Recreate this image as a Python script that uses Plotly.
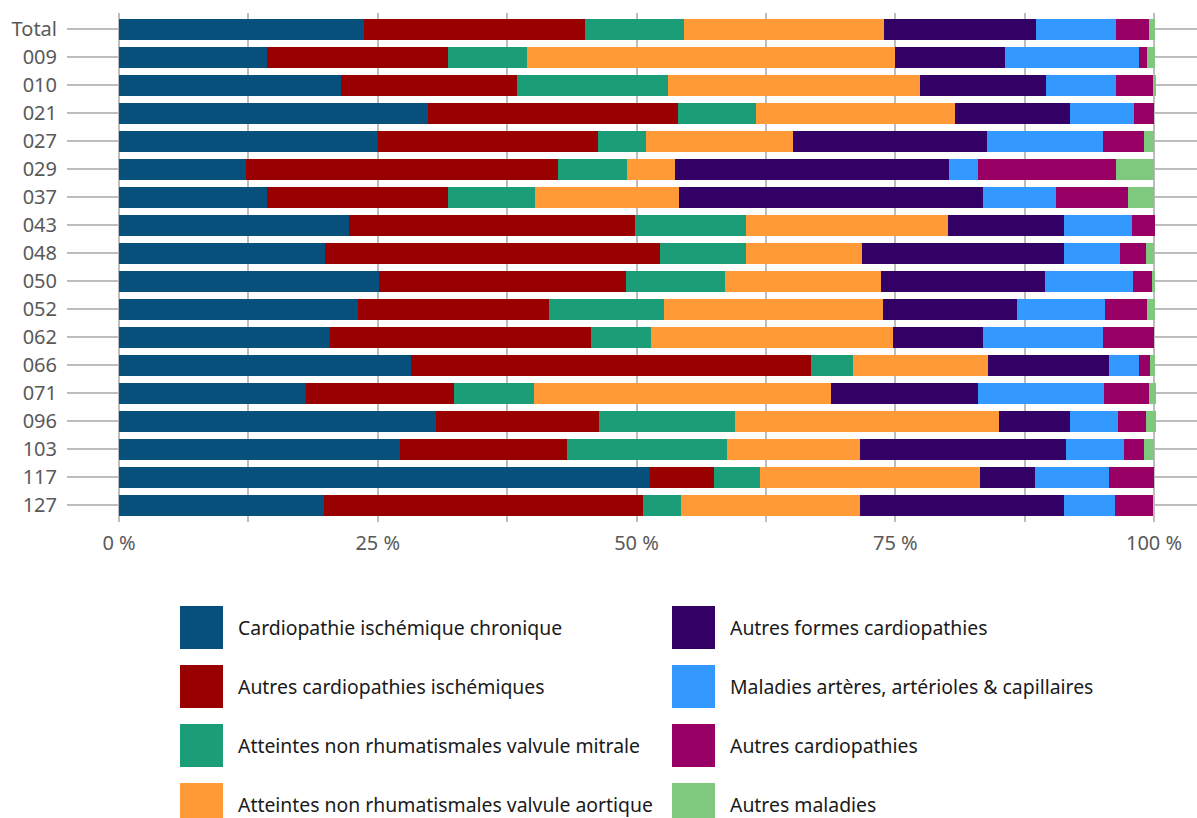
import plotly.graph_objects as go

# Regions (rows of the chart, top to bottom)
categories = ["Total", "009", "010", "021", "027", "029", "037", "043", "048",
              "050", "052", "062", "066", "071", "096", "103", "117", "127"]

# Share of deaths (%) by cause, one list per cause, in category order
cardio_isch_chronique = [23.7, 14.3, 21.4, 29.9, 25.0, 12.3, 14.3, 22.2, 19.9,
                         25.1, 23.1, 20.4, 28.2, 18.1, 30.6, 27.1, 51.3, 19.8]
autres_cardio_isch = [21.3, 17.5, 17.1, 24.1, 21.3, 30.1, 17.5, 27.7, 32.4,
                      23.9, 18.4, 25.2, 38.7, 14.3, 15.8, 16.2, 6.2, 30.8]
valvule_mitrale = [9.6, 7.6, 14.5, 7.5, 4.6, 6.7, 8.4, 10.7, 8.3,
                   9.5, 11.2, 5.8, 4.0, 7.7, 13.1, 15.4, 4.4, 3.7]
valvule_aortique = [19.3, 35.6, 24.4, 19.3, 14.2, 4.6, 13.9, 19.5, 11.2,
                    15.1, 21.1, 23.4, 13.1, 28.7, 25.5, 12.9, 21.3, 17.3]
autres_formes = [14.7, 10.6, 12.2, 11.1, 18.8, 26.5, 29.4, 11.2, 19.5,
                 15.9, 13.0, 8.7, 11.6, 14.2, 6.9, 19.9, 5.3, 19.7]
arteres = [7.7, 12.9, 6.7, 6.2, 11.2, 2.8, 7.0, 6.6, 5.4,
           8.5, 8.5, 11.6, 2.9, 12.2, 4.6, 5.6, 7.1, 4.9]
autres_cardiopathies = [3.2, 0.8, 3.6, 1.9, 3.9, 13.3, 7.0, 2.2, 2.5,
                        1.8, 4.0, 4.9, 1.1, 4.3, 2.7, 1.9, 4.4, 3.7]
autres_maladies = [0.6, 0.8, 0.3, 0.0, 1.0, 3.7, 2.5, 0.0, 0.8,
                   0.3, 0.8, 0.0, 0.5, 0.7, 1.0, 1.0, 0.0, 0.0]

series_names = [
    "Cardiopathie ischémique chronique",
    "Autres cardiopathies ischémiques",
    "Atteintes non rhumatismales valvule mitrale",
    "Atteintes non rhumatismales valvule aortique",
    "Autres formes cardiopathies",
    "Maladies artères, artérioles & capillaires",
    "Autres cardiopathies",
    "Autres maladies",
]
series_values = [cardio_isch_chronique, autres_cardio_isch, valvule_mitrale,
                 valvule_aortique, autres_formes, arteres,
                 autres_cardiopathies, autres_maladies]
series_colors = ["#08507C", "#990000", "#1B9E77", "#FF9A36",
                 "#330066", "#3399FF", "#990066", "#7FC97F"]

tick_values = [0, 12.5, 25, 37.5, 50, 62.5, 75, 87.5, 100]
tick_labels = ["0 %", "", "25 %", "", "50 %", "", "75 %", "", "100 %"]

W, H = 1197, 818
M_L, M_R, M_T, M_B = 119, 0, 13, 296
FONT = "Noto Sans"
GRID = "#BDBDBD"

fig = go.Figure()
for name, vals, col in zip(series_names, series_values, series_colors):
    fig.add_trace(go.Bar(
        y=categories, x=vals, name=name, orientation="h",
        marker=dict(color=col, line=dict(width=0)),
        showlegend=False,
        hovertemplate="%{y}: %{x:.1f} %<extra>" + name + "</extra>",
    ))

# Pixel -> paper helpers for the custom legend under the plot
plot_w = W - M_L - M_R
plot_h = H - M_T - M_B


def px_x(px):
    return (px - M_L) / plot_w


def px_y(py):
    return (H - M_B - py) / plot_h


shapes = []
annotations = []
sw = 43
col_x = [180, 672]
row_y = [627.5, 686.5, 745.5, 804.5]
for i, (name, col) in enumerate(zip(series_names, series_colors)):
    cx = col_x[i // 4]
    cy = row_y[i % 4]
    shapes.append(dict(
        type="rect", xref="paper", yref="paper",
        x0=px_x(cx), x1=px_x(cx + sw),
        y0=px_y(cy + sw / 2), y1=px_y(cy - sw / 2),
        fillcolor=col, line=dict(width=0), layer="above",
    ))
    annotations.append(dict(
        xref="paper", yref="paper", x=px_x(cx + sw + 13), y=px_y(cy),
        xanchor="left", yanchor="middle", showarrow=False, text=name,
        font=dict(family=FONT, size=19.4, color="#1A1A1A"),
    ))

fig.update_layout(
    width=W, height=H,
    margin=dict(l=M_L, r=M_R, t=M_T, b=M_B, pad=0),
    paper_bgcolor="white", plot_bgcolor="white",
    barmode="stack", bargap=0.25,
    font=dict(family=FONT, size=20, color="#595959"),
    shapes=shapes, annotations=annotations,
    xaxis=dict(
        range=[0, 104.15], tickvals=tick_values, ticktext=tick_labels,
        showgrid=True, gridcolor=GRID, gridwidth=2,
        zeroline=True, zerolinecolor=GRID, zerolinewidth=2,
        showline=False, ticks="", ticklabelstandoff=7,
        tickfont=dict(family=FONT, size=20, color="#595959"),
        fixedrange=True,
    ),
    yaxis=dict(
        categoryorder="array", categoryarray=categories,
        range=[17.6, -0.58],
        showgrid=True, gridcolor=GRID, gridwidth=2,
        ticks="outside", ticklen=51, tickwidth=2, tickcolor=GRID,
        ticklabelstandoff=6, showline=False, zeroline=False,
        tickfont=dict(family=FONT, size=20, color="#595959"),
        fixedrange=True,
    ),
)

fig.write_html("out.html")
